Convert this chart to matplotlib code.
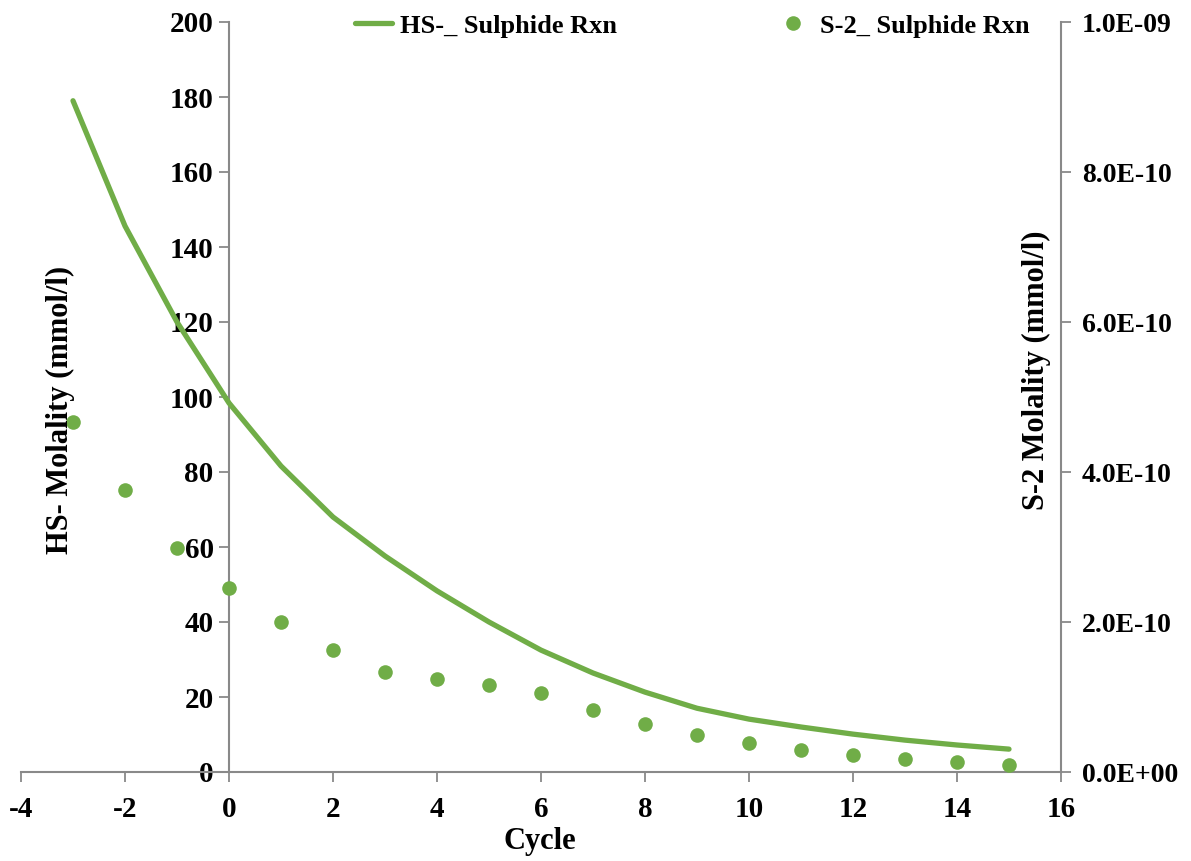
import numpy as np
import matplotlib
matplotlib.use("Agg")
import matplotlib.pyplot as plt

plt.rcParams['font.family'] = ['Liberation Serif', 'DejaVu Serif']
plt.rcParams['font.weight'] = 'bold'
plt.rcParams['axes.unicode_minus'] = False

# data
cycle = [-3, -2, -1, 0, 1, 2, 3, 4, 5, 6, 7, 8, 9, 10, 11, 12, 13, 14, 15]
hs_molality = [179, 145.6, 120, 98.4, 81.6, 68, 57.6, 48.3, 40, 32.5, 26.4,
               21.3, 17, 14.1, 12, 10.1, 8.5, 7.2, 6.1]
s2_molality = [4.67e-10, 3.76e-10, 2.99e-10, 2.45e-10, 2.0e-10, 1.63e-10,
               1.33e-10, 1.24e-10, 1.16e-10, 1.05e-10, 8.3e-11, 6.4e-11,
               4.9e-11, 3.9e-11, 2.9e-11, 2.3e-11, 1.7e-11, 1.3e-11, 1.0e-11]
x_ticks = list(range(-4, 17, 2))
left_ticks = list(range(0, 201, 20))
right_ticks = [0, 2e-10, 4e-10, 6e-10, 8e-10, 1e-9]
right_labels = ['0.0E+00', '2.0E-10', '4.0E-10', '6.0E-10', '8.0E-10', '1.0E-09']

green = '#70AD47'
grey = '#898989'

fig = plt.figure(figsize=(11.91, 8.61), dpi=100)
ax = fig.add_axes([21/1191, 1-772/861, (1061-21)/1191, (772-22)/861])
ax2 = ax.twinx()

l1, = ax.plot(cycle, hs_molality, color=green, lw=3.8, solid_capstyle='round',
              label='HS-_ Sulphide Rxn', zorder=3)
l2, = ax2.plot(cycle, s2_molality, 'o', color=green, ms=10.5, mec='none',
               label='S-2_ Sulphide Rxn', zorder=3)

ax.set_xlim(-4, 16)
ax.set_ylim(0, 200)
ax2.set_ylim(0, 1e-9)
ax.set_xticks(x_ticks)
ax.set_yticks(left_ticks)
ax2.set_yticks(right_ticks)
ax2.set_yticklabels(right_labels)

ax.spines['left'].set_position(('data', 0))
for sp in ['top', 'right']:
    ax.spines[sp].set_visible(False)
for sp in ['top', 'left']:
    ax2.spines[sp].set_visible(False)
ax2.spines['bottom'].set_visible(False)
for s in [ax.spines['left'], ax.spines['bottom'], ax2.spines['right']]:
    s.set_color(grey)
    s.set_linewidth(1.5)

ax.tick_params(axis='both', direction='out', length=7, width=1.3, color=grey,
               labelsize=21, pad=4)
ax2.tick_params(axis='y', direction='out', length=7, width=1.3, color=grey,
                labelsize=20, pad=8)
ax.tick_params(axis='x', pad=10)
for lab in ax.get_xticklabels() + ax.get_yticklabels() + ax2.get_yticklabels():
    lab.set_fontweight('bold')

fig.text(60/1191, 1-410/861, 'HS- Molality (mmol/l)', rotation=90,
         ha='center', va='center', fontsize=22, fontweight='bold')
fig.text(1036/1191, 1-370/861, 'S-2 Molality (mmol/l)', rotation=90,
         ha='center', va='center', fontsize=22, fontweight='bold')
fig.text(540/1191, 1-842/861, 'Cycle', ha='center', va='center',
         fontsize=22, fontweight='bold')

fig.legend(handles=[l1, l2], loc='center', bbox_to_anchor=(692/1191, 1-26/861),
           ncol=2, frameon=False, handlelength=1.4,
           columnspacing=6.0, handletextpad=0.3, prop={'weight': 'bold', 'size': 19})

fig.savefig('out.png', dpi=100)
